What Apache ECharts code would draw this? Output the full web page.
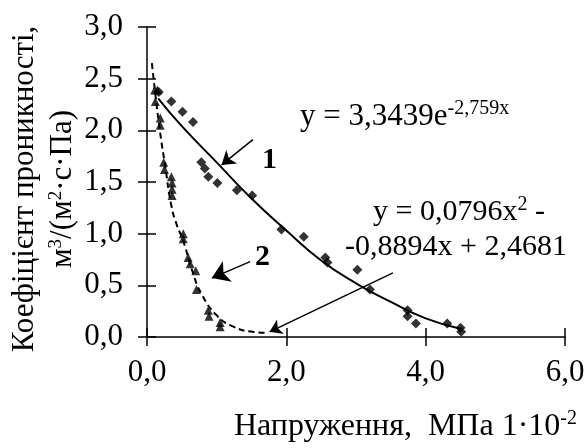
<!DOCTYPE html>
<html>
<head>
<meta charset="utf-8">
<script src="https://cdn.jsdelivr.net/npm/echarts@6/dist/echarts.min.js"></script>
<style>
  html, body { margin: 0; padding: 0; background: #fff; }
  #chart { width: 587px; height: 448px; }
</style>
</head>
<body>
<div id="chart"></div>
<script>
// data
const xTicks = ['0,0', '2,0', '4,0', '6,0'];
const yTicks = ['0,0', '0,5', '1,0', '1,5', '2,0', '2,5', '3,0'];

// curve 1 - diamonds
const points1 = [
  [0.17, 2.37], [0.35, 2.28], [0.51, 2.18], [0.66, 2.08], [0.78, 1.69],
  [0.83, 1.63], [0.88, 1.55], [1.01, 1.49], [1.29, 1.42], [1.51, 1.37],
  [1.93, 1.04], [2.25, 0.97], [2.56, 0.77], [2.59, 0.72], [3.02, 0.65],
  [3.2, 0.46], [3.74, 0.26], [3.74, 0.2], [3.86, 0.13], [4.31, 0.13],
  [4.5, 0.09], [4.51, 0.05]
];
// curve 2 - triangles
const points2 = [
  [0.11, 2.39], [0.15, 2.39], [0.12, 2.28], [0.19, 2.12], [0.19, 2.05],
  [0.24, 1.69], [0.25, 1.62], [0.35, 1.55], [0.36, 1.49], [0.36, 1.43],
  [0.36, 1.37], [0.52, 1.0], [0.52, 0.95], [0.59, 0.77], [0.62, 0.71],
  [0.7, 0.64], [0.71, 0.46], [0.88, 0.26], [0.89, 0.2], [1.05, 0.14],
  [1.05, 0.1]
];
// trend lines
const trend1 = [
  [0.16, 2.31], [0.5, 2.04], [1.0, 1.69], [1.5, 1.34], [2.0, 1.03],
  [2.5, 0.74], [3.0, 0.52], [3.5, 0.34], [4.0, 0.18], [4.5, 0.08]
];
const trend2 = [
  [0.07, 2.65], [0.12, 2.35], [0.19, 1.97], [0.26, 1.66], [0.35, 1.27],
  [0.43, 1.08], [0.52, 0.93], [0.66, 0.62], [0.78, 0.42], [1.0, 0.21],
  [1.24, 0.1], [1.52, 0.05], [1.75, 0.04]
];
// annotation arrows [from, to]
const arrow1 = [[1.52, 1.91], [1.07, 1.665]];
const arrow2 = [[1.48, 0.73], [0.93, 0.57]];
const arrow3 = [[3.53, 0.62], [1.76, 0.05]];

const FONT = '"Liberation Serif", "Times New Roman", serif';

function arrowSeries(name, seg, size) {
  return {
    name: name,
    type: 'line',
    data: [],
    silent: true,
    markLine: {
      silent: true,
      symbol: ['none', 'arrow'],
      symbolSize: size,
      label: { show: false },
      lineStyle: { color: '#000', width: 1.5, type: 'solid' },
      data: [[{ coord: seg[0] }, { coord: seg[1] }]]
    }
  };
}

const chart = echarts.init(document.getElementById('chart'));

const axisBase = {
  type: 'value',
  splitLine: { show: false },
  axisLine: { show: true, onZero: false, lineStyle: { color: '#000', width: 1.5 } },
  axisTick: { show: true, length: 9, lineStyle: { color: '#000', width: 1.5 } }
};

chart.setOption({
  animation: false,
  textStyle: { fontFamily: FONT },
  grid: { left: 147, right: 22, top: 27, bottom: 111, outerBoundsMode: 'none' },
  xAxis: [
    Object.assign({}, axisBase, {
      min: 0, max: 6, interval: 2,
      axisLabel: {
        margin: 20, color: '#000', fontSize: 31, fontFamily: FONT,
        formatter: (v) => xTicks[Math.round(v / 2)]
      }
    }),
    Object.assign({}, axisBase, {
      min: 0, max: 6, interval: 2, position: 'bottom',
      axisLine: { show: false },
      axisTick: { show: true, inside: true, length: 9, lineStyle: { color: '#000', width: 1.5 } },
      axisLabel: { show: false }
    })
  ],
  yAxis: [
    Object.assign({}, axisBase, {
      min: 0, max: 3, interval: 0.5,
      axisLabel: {
        margin: 24, color: '#000', fontSize: 31, fontFamily: FONT,
        formatter: (v) => yTicks[Math.round(v * 2)]
      }
    }),
    Object.assign({}, axisBase, {
      min: 0, max: 3, interval: 0.5, position: 'left',
      axisLine: { show: false },
      axisTick: { show: true, inside: true, length: 9, lineStyle: { color: '#000', width: 1.5 } },
      axisLabel: { show: false }
    })
  ],
  graphic: [
    {
      // y axis title, two lines, reading upwards
      type: 'text', x: 44, y: 189, rotation: Math.PI / 2,
      style: {
        text: '{a|Коефіцієнт проникності,}\n{a|м}{s|3}{a|/(м}{s|2}{a|·с·Па)}',
        align: 'center', verticalAlign: 'middle',
        rich: {
          a: { fontSize: 31, fontFamily: FONT, fill: '#000', lineHeight: 38, align: 'center' },
          s: { fontSize: 19, fontFamily: FONT, fill: '#000', lineHeight: 38, padding: [0, 0, 14, 0] }
        }
      }
    },
    {
      type: 'text', left: 300, top: 99,
      style: {
        text: '{a|y = 3,3439e}{s|-2,759x}',
        rich: {
          a: { fontSize: 31, fontFamily: FONT, fill: '#000' },
          s: { fontSize: 20, fontFamily: FONT, fill: '#000', padding: [0, 0, 15, 0] }
        }
      }
    },
    {
      type: 'text', left: 373, top: 195,
      style: {
        text: '{a|y = 0,0796x}{s|2}{a| -}',
        rich: {
          a: { fontSize: 30, fontFamily: FONT, fill: '#000' },
          s: { fontSize: 20, fontFamily: FONT, fill: '#000', padding: [0, 0, 15, 0] }
        }
      }
    },
    {
      type: 'text', left: 345, top: 232,
      style: { text: '-0,8894x + 2,4681', fontSize: 30, fontFamily: FONT, fill: '#000' }
    },
    {
      type: 'text', left: 262, top: 145,
      style: { text: '1', fontSize: 30, fontWeight: 'bold', fontFamily: FONT, fill: '#000' }
    },
    {
      type: 'text', left: 255, top: 242,
      style: { text: '2', fontSize: 30, fontWeight: 'bold', fontFamily: FONT, fill: '#000' }
    },
    {
      type: 'text', right: 10, top: 409,
      style: {
        text: '{a|Напруження,  МПа 1·10}{s|-2}',
        rich: {
          a: { fontSize: 32, fontFamily: FONT, fill: '#000' },
          s: { fontSize: 20, fontFamily: FONT, fill: '#000', padding: [0, 0, 15, 0] }
        }
      }
    }
  ],
  series: [
    {
      name: 'trend1', type: 'line', data: trend1, smooth: true,
      showSymbol: false, lineStyle: { color: '#000', width: 2 }
    },
    {
      name: 'trend2', type: 'line', data: trend2, smooth: true,
      showSymbol: false, lineStyle: { color: '#000', width: 2, type: [6, 4] }
    },
    {
      name: '1', type: 'scatter', data: points1, symbol: 'diamond',
      symbolSize: 10, itemStyle: { color: '#000' }
    },
    {
      name: '2', type: 'scatter', data: points2, symbol: 'triangle',
      symbolSize: 9, itemStyle: { color: '#000' }
    },
    arrowSeries('a1', arrow1, 13),
    arrowSeries('a2', arrow2, 17),
    arrowSeries('a3', arrow3, 12)
  ]
});
</script>
</body>
</html>
